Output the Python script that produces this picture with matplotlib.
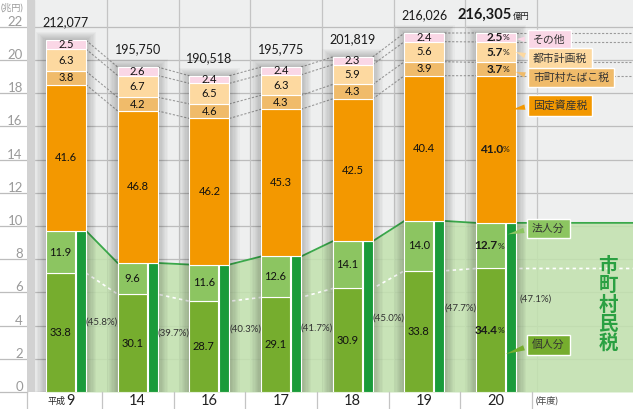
import numpy as np
import matplotlib
matplotlib.use("Agg")
import matplotlib.pyplot as plt
from matplotlib.patches import Rectangle
from matplotlib.transforms import ScaledTranslation

plt.rcParams['font.family'] = ['Lato', 'Noto Sans CJK JP', 'DejaVu Sans']

# data (percent of total, totals in 億円)
years = ['9', '14', '16', '17', '18', '19', '20']
totals = [212077, 195750, 190518, 195775, 201819, 216026, 216305]
kojin = [33.8, 30.1, 28.7, 29.1, 30.9, 33.8, 34.4]      # 個人分
hojin = [11.9, 9.6, 11.6, 12.6, 14.1, 14.0, 12.7]       # 法人分
kotei = [41.6, 46.8, 46.2, 45.3, 42.5, 40.4, 41.0]      # 固定資産税
tabako = [3.8, 4.2, 4.6, 4.3, 4.3, 3.9, 3.7]            # 市町村たばこ税
toshi = [6.3, 6.7, 6.5, 6.3, 5.9, 5.6, 5.7]             # 都市計画税
sonota = [2.5, 2.6, 2.4, 2.4, 2.3, 2.4, 2.5]            # その他
shimin = [45.8, 39.7, 40.3, 41.7, 45.0, 47.7, 47.1]     # 市町村民税 share

# colours
c_kojin = '#76ad2e'
c_hojin = '#8cc561'
c_strip = '#1a9b3a'
c_kotei = '#f39800'
c_tabako = '#f0bb6a'
c_toshi = '#fdd9a0'
c_sonota = '#fad7e6'
c_fill = '#c2e2ae'
c_line = '#3aa84a'

PX = 71.67   # pixels per bar step
PY = 16.6    # pixels per 1 兆円

fig = plt.figure(figsize=(6.33, 4.09), dpi=100)
ax = fig.add_axes([27/633, 17/409, 606/633, 392/409])
xmin, xmax = (27-66)/PX, (633-66)/PX
ax.set_xlim(xmin, xmax)
ax.set_ylim(0, 392/PY)
ax.set_facecolor('#eeefef')
for s in ax.spines.values():
    s.set_visible(False)
ax.set_xticks([])

# y ticks
ax.set_yticks(range(0, 23, 2))
ax.set_yticklabels([str(v) for v in range(0, 23, 2)], color='#9a9a9a', fontsize=9.5)
ax.tick_params(axis='y', length=0, pad=3)
for lab in ax.get_yticklabels():
    lab.set_transform(lab.get_transform() + ScaledTranslation(0, 6/100, fig.dpi_scale_trans))
for v in range(0, 23, 2):
    ax.axhline(v, color='#bdbdbd', lw=0.9, zorder=0.5)
    ax.plot([xmin - 27/PX, xmin], [v, v], color='#bdbdbd', lw=0.9, clip_on=False, zorder=0.5)
ax.add_patch(Rectangle((xmin, 0), 7/PX, 392/PY, color='#d2d2d2', zorder=0.6))

x = np.arange(len(years))
for xi in x:
    ax.axvline(xi + 41/PX, color='#c4c4c4', lw=0.9, zorder=0.5)

tot = np.array(totals) / 10000.0
hw = 20/PX
gw = 29/PX
sw = 10/PX

seg_h = [np.array(p) * tot / 100 for p in (kojin, hojin, kotei, tabako, toshi, sonota)]
cum = np.cumsum(seg_h, axis=0)
strip_h = np.array(shimin) * tot / 100
kojin_h = seg_h[0]

# green area for 市町村民税
xs, ys = [], []
for i in x:
    xs += [i - hw, i + hw]
    ys += [strip_h[i], strip_h[i]]
xs.append(xmax)
ys.append(strip_h[-1])
ax.fill_between(xs, 0, ys, color=c_fill, alpha=0.85, zorder=1, lw=0)
ax.plot(xs[1:], ys[1:], color=c_line, lw=1.3, zorder=1.6)

# dashed white line for 個人分 tops
kx, ky = [], []
for i in x:
    kx += [i - hw, i + hw]
    ky += [kojin_h[i], kojin_h[i]]
kx.append(xmax)
ky.append(kojin_h[-1])
ax.plot(kx[1:], ky[1:], color='white', lw=1.2, dashes=(2, 2), zorder=1.6)

# gray dashed connectors of upper boundaries
for k in (2, 3, 4, 5):
    gx, gy = [], []
    for i in x:
        gx += [i - hw, i + hw]
        gy += [cum[k][i], cum[k][i]]
    gx.append(xmax)
    gy.append(cum[k][-1])
    for j in range(1, len(gx) - 1, 2):
        ax.plot(gx[j:j+2], gy[j:j+2], color='#9a9a9a', lw=0.8, dashes=(2, 1.5), zorder=1.7)

# bar shadows
for i in x:
    for k in range(1, 9):
        d = k * 1.3 / PX
        ax.add_patch(Rectangle((i - hw - d, 0), 2*hw + 2*d, tot[i] + k*1.0/PY,
                               color='black', alpha=0.028, lw=0, zorder=2))

# bars
for i in x:
    left = i - hw
    ax.add_patch(Rectangle((left, 0), gw, seg_h[0][i], fc=c_kojin, ec='white', lw=0.8, zorder=3))
    ax.add_patch(Rectangle((left, cum[0][i]), gw, seg_h[1][i], fc=c_hojin, ec='white', lw=0.8, zorder=3))
    ax.add_patch(Rectangle((left + gw + 1/PX, 0), sw, strip_h[i], fc=c_strip, ec='white', lw=0.8, zorder=3))
    for k, col in zip((2, 3, 4, 5), (c_kotei, c_tabako, c_toshi, c_sonota)):
        ax.add_patch(Rectangle((left, cum[k-1][i]), 2*hw, seg_h[k][i], fc=col, ec='white', lw=0.8, zorder=3.1))

# segment labels
vals = (kojin, hojin, kotei, tabako, toshi, sonota)
for i in x:
    for k in range(6):
        yc = cum[k][i] - seg_h[k][i] / 2
        xc = i - hw + gw/2 if k < 2 else i
        if i == len(years) - 1:
            ax.text(xc + 7/PX, yc, f'{vals[k][i]:.1f}', ha='right', va='center',
                    fontsize=8.5, fontweight='bold', color='#1a1a1a', zorder=5)
            ax.text(xc + 7/PX, yc - 0.03, '%', ha='left', va='center',
                    fontsize=6, color='#1a1a1a', zorder=5)
        else:
            ax.text(xc, yc, f'{vals[k][i]:.1f}', ha='center', va='center',
                    fontsize=8, color='#111', zorder=5)

# totals
for i in x[:-1]:
    ax.annotate(f'{totals[i]:,}', (i, tot[i]), xytext=(0, 13), textcoords='offset points',
                ha='center', va='center', fontsize=9, color='#1a1a1a', zorder=5)
ax.annotate(f'{totals[-1]:,}', (x[-1] + 16/PX, tot[-1]), xytext=(0, 13), textcoords='offset points',
            ha='right', va='center', fontsize=10.5, fontweight='bold', color='#1a1a1a', zorder=5)
ax.annotate('億円', (x[-1] + 17/PX, tot[-1]), xytext=(0, 12), textcoords='offset points',
            ha='left', va='center', fontsize=6, color='#1a1a1a', zorder=5)

# 市町村民税 share labels
share_y = [4.2, 3.55, 3.8, 3.85, 4.45, 5.05, 5.6]
for i in x:
    off = 36/PX if i < len(years) - 1 else 40/PX
    ax.text(i + off, share_y[i], f'({shimin[i]:.1f}%)', ha='center', va='center',
            fontsize=7, color='#333', zorder=5)

# callouts
callouts = [
    ('その他', c_sonota, (527, 39.5), (514, 39)),
    ('都市計画税', c_toshi, (527, 58.5), (513, 51)),
    ('市町村たばこ税', c_tabako, (527, 77.5), (513, 71)),
    ('固定資産税', c_kotei, (527, 105.5), (510, 110)),
    ('法人分', c_hojin, (526, 228.5), (505, 235)),
    ('個人分', c_kojin, (526, 345), (503, 355)),
]
for txt, col, (bx, by), (tx, ty) in callouts:
    ax.annotate(txt, ((tx-66)/PX, (392-ty)/PY), xytext=((bx-66)/PX + 6/PX, (392-by)/PY),
                ha='left', va='center', fontsize=7.8, color='#333',
                family=['Noto Sans CJK JP'], zorder=6,
                bbox=dict(boxstyle='square,pad=0.45', fc=col, ec='white', lw=1),
                arrowprops=dict(arrowstyle='wedge,tail_width=0.5,shrink_factor=0.5',
                                fc=col, ec='none', relpos=(0, 0.5)))

ax.text((608-66)/PX, (392-305)/PY, '市\n町\n村\n民\n税', ha='center', va='center',
        fontsize=14, fontweight='bold', color='#2aa042', linespacing=1.0,
        family=['Noto Sans CJK JP'], zorder=6)

# x labels
ylab = (392-401)/PY
ax.text(-1/PX, ylab, '平成', ha='right', va='center', fontsize=6.5, color='#222', clip_on=False)
ax.text(0, ylab, years[0], ha='left', va='center', fontsize=10.5, color='#222', clip_on=False)
for i in x[1:]:
    ax.text(i, ylab, years[i], ha='center', va='center', fontsize=10.5, color='#222', clip_on=False)
ax.text((547-66)/PX, ylab, '(年度)', ha='center', va='center', fontsize=6.5, color='#444', clip_on=False)
for i in x:
    ax.plot([i + 36/PX, i + 36/PX], [0, -17/PY], color='#c4c4c4', lw=0.9, clip_on=False)
ax.plot([xmin, xmin], [0, -17/PY], color='#c4c4c4', lw=0.9, clip_on=False)

fig.text(12/633, 1 - 8/409, '(兆円)', ha='center', va='center', fontsize=6.5, color='#999')

fig.savefig('out.png', dpi=100)
